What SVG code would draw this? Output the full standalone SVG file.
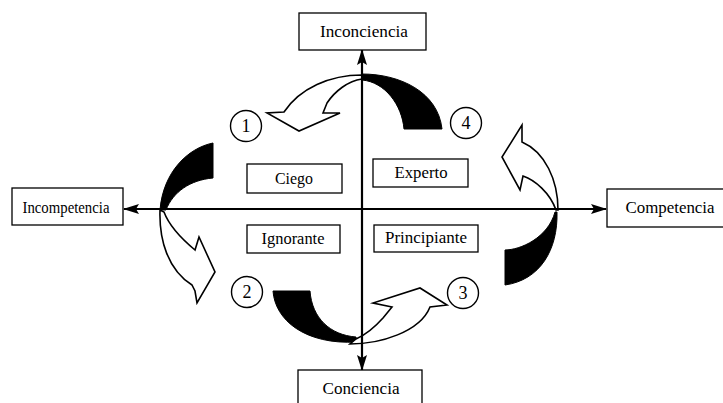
<svg xmlns="http://www.w3.org/2000/svg" width="723" height="403" viewBox="0 0 723 403">
<defs>
<style>
.box{fill:#fff;stroke:#000;stroke-width:1.3}
.lbl{font-family:"Liberation Serif","Times New Roman",serif;font-size:16.5px;fill:#000;text-anchor:middle}
.num{font-family:"Liberation Serif","Times New Roman",serif;font-size:18px;fill:#000;text-anchor:middle}
.circ{fill:#fff;stroke:#000;stroke-width:1.4}
.wa{fill:#fff;stroke:#000;stroke-width:1.6;stroke-linejoin:miter}
.ba{fill:#000;stroke:#000;stroke-width:1}
.axis{stroke:#000;stroke-width:2.2;fill:none}
</style>
<marker id="ah" viewBox="0 0 16 10" refX="15" refY="5" markerWidth="16" markerHeight="10" markerUnits="userSpaceOnUse" orient="auto">
<path d="M0,0 L16,5 L0,10 L3,5 Z" fill="#000"/>
</marker>
</defs>
<rect width="723" height="403" fill="#fff"/>
<g id="cycle">
<path id="band-top" class="ba" d="M362,74 C400,74 438,92 442,129 L404,129 C402,105 385,82 362,80 Z"/>
<path id="arrow-1" class="wa" d="M362,75 C330,75 300,88 284,112 L267,113 L299,131 L340,113 L323,113 L327,103 C335,91 348,81 362,79 Z"/>
<path id="band-left" class="ba" d="M213,143 C188,148 163,172 160,210 L166,210 C173,192 190,180 213,178 Z"/>
<path id="arrow-2" class="wa" d="M160,210 C159,240 168,270 192,285 L195,291 L197,303 L215,272 L199,237 L195,250 C183,240 170,228 164,212 Z"/>
<path id="band-bottom" class="ba" d="M273,291 C275,320 305,345 357,342 L356,337 C330,335 312,318 310,291 Z"/>
<path id="arrow-3" class="wa" d="M350,344 C380,344 420,332 430,307 L447,305 L420,288 L373,303 L392,307 L383,318 C375,327 365,335 356,339 Z"/>
<path id="band-right" class="ba" d="M557,212 C558,250 540,280 505,285 L505,250 C520,250 548,238 555,212 Z"/>
<path id="arrow-4" class="wa" d="M558,210 C558,180 545,152 522,142 L522,125 L502,157 L520,190 L523,176 C535,180 550,193 556,210 Z"/>
</g>
<g id="connectors">
<line class="axis" x1="362" y1="209" x2="362" y2="50" marker-end="url(#ah)"/>
<line class="axis" x1="362" y1="209" x2="362" y2="370" marker-end="url(#ah)"/>
<line class="axis" x1="362" y1="209" x2="124" y2="209" marker-end="url(#ah)"/>
<line class="axis" x1="362" y1="209" x2="606" y2="209" marker-end="url(#ah)"/>
</g>
<g id="n-inconciencia"><rect class="box" x="299" y="13" width="127" height="37"/><text class="lbl" x="364" y="37" textLength="88" lengthAdjust="spacingAndGlyphs">Inconciencia</text></g>
<g id="n-conciencia"><rect class="box" x="298" y="370" width="124" height="40"/><text class="lbl" x="361" y="394" textLength="77" lengthAdjust="spacingAndGlyphs">Conciencia</text></g>
<g id="n-incompetencia"><rect class="box" x="12" y="188" width="111" height="37"/><text class="lbl" x="66" y="213" textLength="87" lengthAdjust="spacingAndGlyphs">Incompetencia</text></g>
<g id="n-competencia"><rect class="box" x="607" y="189" width="122" height="38"/><text class="lbl" x="670" y="213" textLength="89" lengthAdjust="spacingAndGlyphs">Competencia</text></g>
<g id="n-ciego"><rect class="box" x="247" y="164" width="95" height="29"/><text class="lbl" x="294" y="184" textLength="38" lengthAdjust="spacingAndGlyphs">Ciego</text></g>
<g id="n-experto"><rect class="box" x="373" y="159" width="95" height="28"/><text class="lbl" x="421" y="178" textLength="53" lengthAdjust="spacingAndGlyphs">Experto</text></g>
<g id="n-ignorante"><rect class="box" x="247" y="225" width="93" height="28"/><text class="lbl" x="293" y="244" textLength="63" lengthAdjust="spacingAndGlyphs">Ignorante</text></g>
<g id="n-principiante"><rect class="box" x="374" y="225" width="104" height="27"/><text class="lbl" x="426" y="243" textLength="82" lengthAdjust="spacingAndGlyphs">Principiante</text></g>
<g id="step-1"><circle class="circ" cx="246" cy="126" r="15.5"/><text class="num" x="246" y="132">1</text></g>
<g id="step-2"><circle class="circ" cx="247" cy="292" r="15.5"/><text class="num" x="247" y="298">2</text></g>
<g id="step-3"><circle class="circ" cx="463" cy="293" r="15.5"/><text class="num" x="463" y="299">3</text></g>
<g id="step-4"><circle class="circ" cx="466" cy="123" r="15.5"/><text class="num" x="466" y="129">4</text></g>
</svg>
